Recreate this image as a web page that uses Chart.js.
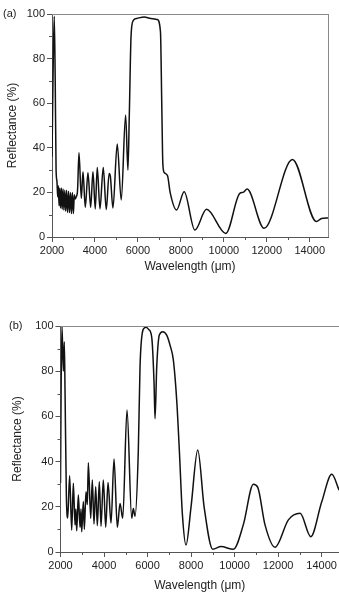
<!DOCTYPE html>
<html><head><meta charset="utf-8">
<script src="https://cdn.jsdelivr.net/npm/chart.js@4"></script>
<style>
html,body{margin:0;padding:0;background:#fff;overflow:hidden;width:339px;height:603px}
.box{position:absolute;left:0;width:339px}
</style></head><body>
<div class="box" style="top:0;height:280px"><canvas id="ca"></canvas></div>
<div class="box" style="top:300px;height:303px"><canvas id="cb"></canvas></div>
<script>
// ---- data ----
const wavelengthA = [2000,2060,2105,2150,2190,2230,2265,2295,2330,2365,2400,2440,2475,2515,2555,2595,2640,2680,2725,2770,2815,2860,2905,2950,2995,3040,3080,3130,3190,3256,3365,3442,3550,3674,3800,3907,4014,4107,4233,4386,4526,4660,4720,4837,5037,5223,5428,5535,5600,5680,5780,5950,6300,6600,6900,7050,7110,7160,7220,7380,7500,7800,8153,8651,9195,10093,10744,10900,11084,11874,13195,14312,14550,14850];
const reflectanceA = [36,80,99,70,30,25,18,23,14,22,13,22,12.5,21.5,12,21,11.5,21,11,20.5,11,20,10.5,20,10.5,19,17,18,21,37.8,17.3,29.3,13.3,28.8,13.3,29.3,12.6,31.2,12.6,31.2,12.3,28.5,27,13,41.7,16.6,54.7,30,55,90,97,98,98.7,98,97.5,92,60,33,29,27.5,20,12.1,20.3,3.1,12.4,1.6,19.6,20,21.5,3.9,34.8,6.9,8.3,8.5];

const wavelengthB = [2000,2030,2069,2129,2175,2210,2270,2331,2420,2515,2590,2667,2705,2745,2820,2897,2943,2975,3050,3095,3172,3233,3280,3388,3462,3540,3618,3692,3784,3862,3968,4078,4184,4322,4460,4612,4736,4860,5057,5273,5347,5425,5577,5655,5800,5931,6050,6193,6299,6345,6423,6543,6700,6880,7050,7186,7342,7462,7600,7770,8000,8308,8600,8998,9379,9946,10400,10866,11067,11400,11862,12474,13011,13503,14000,14469,14805];
const reflectanceB = [30.5,75,100,80,93,70,25,15,33.7,9.7,30.4,12,19,9.4,25.2,10.9,19,9,22.3,10,26.7,21,39.5,14.9,31.9,12.4,28.9,11.7,31.1,11.4,31.9,11,30.7,12.8,41.2,10.9,21.5,14.9,62.8,14.9,19.2,15.8,45,82,98.5,99.5,98.5,95,75,59,82,96,97.5,96,91,85,67,45,17,3.1,20,45.1,20,1.2,2.4,1.2,12,30,28.6,12,2.1,14.2,17.1,6.8,22,34.4,27.4];

const xMajorTicks = [2000,4000,6000,8000,10000,12000,14000];
const xMinorTicks = [3000,5000,7000,9000,11000,13000];
const yMajorTicks = [0,20,40,60,80,100];
const yMinorTicks = [10,30,50,70,90];
const panelLabels = ['(a)','(b)'];
const xTitle = 'Wavelength (\u03bcm)';
const yTitle = 'Reflectance (%)';

const FONT = '"Liberation Sans", Arial, sans-serif';
const AX = '#555';

const deco = {
  id: 'deco',
  afterDraw(chart, args, o) {
    const {ctx, chartArea: a, scales: {x, y}} = chart;
    ctx.save();
    ctx.strokeStyle = AX; ctx.lineWidth = 1;
    ctx.beginPath();
    xMinorTicks.forEach(v => {
      if (v > x.max) return;
      const px = Math.round(x.getPixelForValue(v)) + 0.5;
      ctx.moveTo(px, a.bottom); ctx.lineTo(px, a.bottom + 3);
    });
    yMinorTicks.forEach(v => {
      const py = Math.round(y.getPixelForValue(v)) + 0.5;
      ctx.moveTo(a.left, py); ctx.lineTo(a.left - 3, py);
    });
    ctx.stroke();
    ctx.strokeStyle = '#8a8a8a';
    ctx.beginPath();
    ctx.moveTo(a.left, Math.round(a.top) + 0.5); ctx.lineTo(a.right, Math.round(a.top) + 0.5);
    if (o.right) { ctx.moveTo(Math.round(a.right) + 0.5, a.top); ctx.lineTo(Math.round(a.right) + 0.5, a.bottom); }
    ctx.stroke();
    ctx.fillStyle = '#222'; ctx.font = '11px ' + FONT;
    ctx.textAlign = 'left'; ctx.textBaseline = 'middle';
    ctx.fillText(o.label, o.lx, o.ly);
    ctx.restore();
  }
};

function makeChart(id, wl, rf, cfg) {
  return new Chart(document.getElementById(id), {
    type: 'line',
    data: { datasets: [{
      data: wl.map((w, i) => ({x: w, y: rf[i]})),
      borderColor: '#111', borderWidth: 1.5, pointRadius: 0,
      cubicInterpolationMode: 'monotone', fill: false
    }]},
    options: {
      responsive: true, maintainAspectRatio: false, animation: false,
      devicePixelRatio: 1,
      layout: { padding: { top: cfg.top, right: cfg.right, left: 0, bottom: 0 } },
      plugins: { legend: {display: false}, tooltip: {enabled: false},
        deco: { label: cfg.label, lx: cfg.lx, ly: cfg.ly, right: cfg.showRight } },
      scales: {
        x: {
          type: 'linear', min: 2000, max: cfg.xmax,
          afterBuildTicks: s => { s.ticks = xMajorTicks.map(v => ({value: v})); },
          afterFit: s => { s.height = cfg.xh; },
          grid: { drawOnChartArea: false, tickLength: 5, tickColor: AX },
          border: { color: AX, width: 1 },
          ticks: { color: '#222', font: {family: FONT, size: 11}, padding: 2, maxRotation: 0, callback: v => String(v) },
          title: { display: true, text: xTitle, color: '#222', font: {family: FONT, size: 12}, padding: {top: 0, bottom: cfg.xtp} }
        },
        y: {
          min: 0, max: 100,
          afterBuildTicks: s => { s.ticks = yMajorTicks.map(v => ({value: v})); },
          afterFit: s => { s.width = cfg.yw; },
          grid: { drawOnChartArea: false, tickLength: 5, tickColor: AX },
          border: { color: AX, width: 1 },
          ticks: { color: '#222', font: {family: FONT, size: 11}, padding: 2, callback: v => String(v) },
          title: { display: true, text: yTitle, color: '#222', font: {family: FONT, size: 12}, padding: {top: cfg.ytp, bottom: 0} }
        }
      }
    },
    plugins: [deco]
  });
}

makeChart('ca', wavelengthA, reflectanceA, {top: 14, right: 11, xmax: 14850, xh: 43, yw: 52, xtp: 6, ytp: 5, label: panelLabels[0], lx: 3, ly: 14, showRight: true});
makeChart('cb', wavelengthB, reflectanceB, {top: 26, right: 0, xmax: 14800, xh: 51, yw: 60.5, xtp: 10, ytp: 10, label: panelLabels[1], lx: 9, ly: 26, showRight: false});
</script>
</body></html>
